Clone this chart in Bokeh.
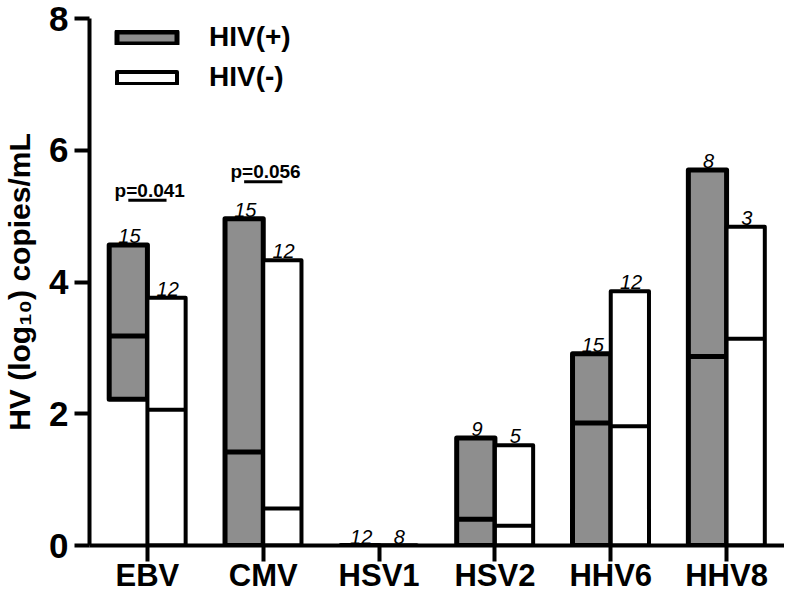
from bokeh.plotting import figure
from bokeh.models import (ColumnDataSource, FactorRange, Range1d, FixedTicker,
                          Legend, LegendItem)
from bokeh.transform import dodge
from bokeh.core.properties import value
from bokeh.embed import file_html
from bokeh.resources import INLINE

# ---- data ----
categories = ["EBV", "CMV", "HSV1", "HSV2", "HHV6", "HHV8"]
hiv_pos_low = [2.22, 0, 0, 0, 0, 0]
hiv_pos_median = [3.18, 1.42, 0, 0.40, 1.86, 2.87]
hiv_pos_high = [4.56, 4.96, 0, 1.63, 2.91, 5.70]
hiv_pos_n = ["15", "15", "12", "9", "15", "8"]
hiv_neg_low = [0, 0, 0, 0, 0, 0]
hiv_neg_median = [2.06, 0.56, 0, 0.30, 1.81, 3.14]
hiv_neg_high = [3.76, 4.33, 0, 1.52, 3.86, 4.84]
hiv_neg_n = ["12", "12", "8", "5", "12", "3"]
y_ticks = [0, 2, 4, 6, 8]
p_text = ["p=0.041", "p=0.056"]
p_category = ["EBV", "CMV"]
p_level = [5.24, 5.52]

FONT = "Liberation Sans"
GRAY = "#8e8e8e"
BW = 0.33  # bar width in category units

src = ColumnDataSource(dict(
    cat=categories,
    pos_low=hiv_pos_low, pos_med=hiv_pos_median, pos_high=hiv_pos_high, pos_n=hiv_pos_n,
    neg_low=hiv_neg_low, neg_med=hiv_neg_median, neg_high=hiv_neg_high, neg_n=hiv_neg_n,
))
psrc = ColumnDataSource(dict(cat=p_category, y=p_level, text=p_text))

p = figure(x_range=FactorRange(factors=categories, range_padding=0),
           y_range=Range1d(0, 8),
           width=784, height=595,
           output_backend="svg", toolbar_location=None,
           min_border_left=80, min_border_right=0,
           min_border_top=18, min_border_bottom=40)
p.outline_line_color = None
p.xgrid.grid_line_color = None
p.ygrid.grid_line_color = None
p.background_fill_color = "white"
p.border_fill_color = "white"

xr = p.x_range
r_pos = p.vbar(x=dodge("cat", -BW / 2, range=xr), width=BW, bottom="pos_low", top="pos_high",
               source=src, fill_color=GRAY, line_color="black", line_width=5,
               line_join="round")
r_neg = p.vbar(x=dodge("cat", BW / 2, range=xr), width=BW, bottom="neg_low", top="neg_high",
               source=src, fill_color="white", line_color="black", line_width=4,
               line_join="round")
p.segment(x0=dodge("cat", -BW, range=xr), x1=dodge("cat", 0, range=xr),
          y0="pos_med", y1="pos_med", source=src, line_color="black", line_width=5)
p.segment(x0=dodge("cat", 0, range=xr), x1=dodge("cat", BW, range=xr),
          y0="neg_med", y1="neg_med", source=src, line_color="black", line_width=4)

# sample counts above bars
p.text(x=dodge("cat", -BW / 2 + 0.01, range=xr), y="pos_high", text="pos_n", source=src,
       text_align="center", text_baseline="alphabetic", y_offset=-9,
       text_font=value(FONT), text_font_style="italic", text_font_size="20px",
       text_color="black")
p.text(x=dodge("cat", BW / 2 + 0.01, range=xr), y="neg_high", text="neg_n", source=src,
       text_align="center", text_baseline="alphabetic", y_offset=-9,
       text_font=value(FONT), text_font_style="italic", text_font_size="20px",
       text_color="black")

# p-value annotations
p.segment(x0=dodge("cat", -BW / 2, range=xr), x1=dodge("cat", BW / 2, range=xr),
          y0="y", y1="y", source=psrc, line_color="black", line_width=3)
p.text(x=dodge("cat", 0.02, range=xr), y="y", text="text", source=psrc,
       text_align="center", text_baseline="alphabetic", y_offset=-10,
       text_font=value(FONT), text_font_style="bold", text_font_size="19px",
       text_color="black")

# axes
for ax in (p.xaxis[0], p.yaxis[0]):
    ax.axis_line_width = 4
    ax.axis_line_color = "black"
    ax.major_tick_line_width = 4
    ax.major_tick_line_color = "black"
    ax.major_tick_in = 0
    ax.minor_tick_line_color = None
    ax.major_label_text_font = FONT
    ax.major_label_text_font_style = "bold"
    ax.major_label_text_color = "black"

p.yaxis.ticker = FixedTicker(ticks=y_ticks)
p.yaxis.major_tick_out = 15
p.yaxis.major_label_text_font_size = "35px"
p.yaxis.major_label_standoff = 6
p.yaxis.axis_label = "HV (log\u2081\u2080) copies/mL"
p.yaxis.axis_label_text_font = FONT
p.yaxis.axis_label_text_font_style = "bold"
p.yaxis.axis_label_text_font_size = "30px"
p.yaxis.axis_label_text_color = "black"
p.yaxis.axis_label_standoff = 10

p.xaxis.major_tick_out = 16
p.xaxis.major_label_text_font_size = "31px"
p.xaxis.major_label_standoff = -4

legend = Legend(items=[LegendItem(label="HIV(+)", renderers=[r_pos]),
                       LegendItem(label="HIV(-)", renderers=[r_neg])],
                location=(20, 452), orientation="vertical",
                glyph_width=75, glyph_height=15, label_standoff=25,
                label_height=30, spacing=8, padding=0, margin=0,
                label_text_font=FONT, label_text_font_style="bold",
                label_text_font_size="28px", label_text_color="black",
                background_fill_alpha=0, border_line_alpha=0)
p.add_layout(legend)

open("out.html", "w").write(file_html(p, INLINE))
